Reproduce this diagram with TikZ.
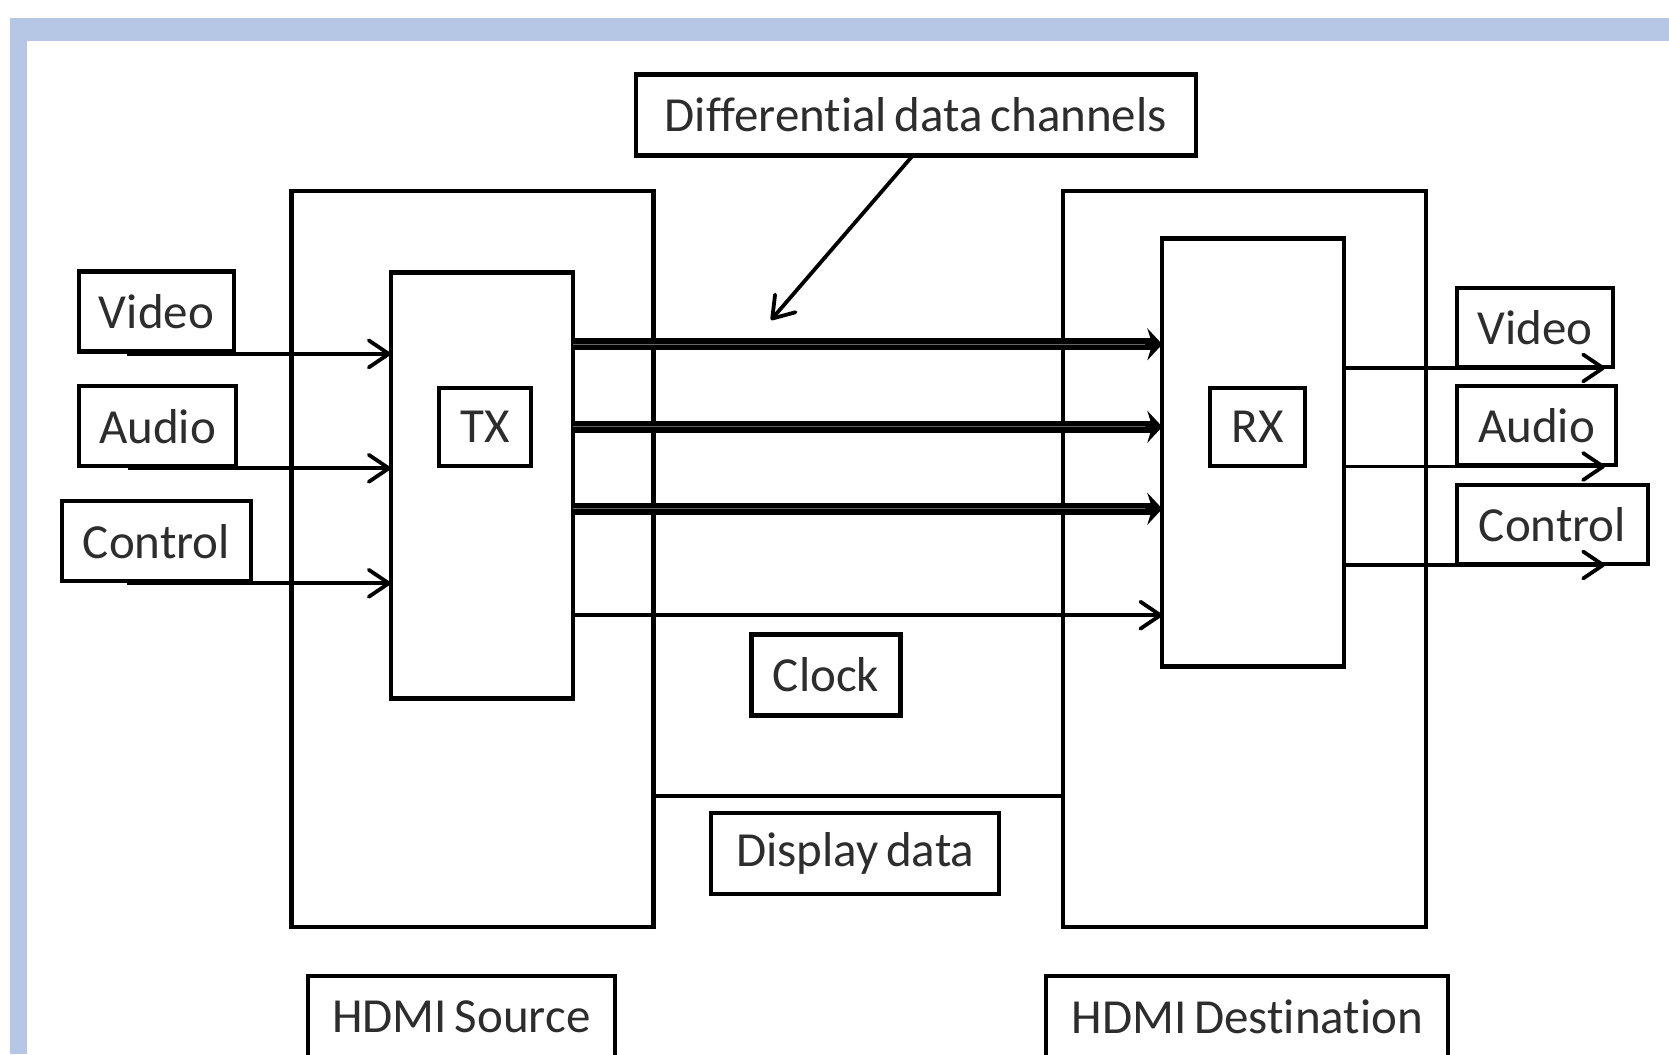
\documentclass[tikz,border=0pt]{standalone}
\usepackage{fontspec}
\setmainfont[Ligatures=NoCommon,WordSpace=0.7]{Carlito}
\usetikzlibrary{arrows.meta,calc}
\definecolor{frameblue}{RGB}{182,199,230}
\definecolor{txtgray}{RGB}{45,45,45}
\tikzset{
  box/.style={draw=black, line width=4.2pt, inner sep=0pt, outer sep=0pt, text=txtgray,
    font=\fontsize{49}{55}\selectfont},
  arr/.style={line width=3.8pt, -{Straight Barb[length=20pt,width=27pt,round]}},
  chan/.style={line width=12pt, -{Stealth[length=15pt,width=32pt,inset=5pt]}},
  chanmid/.style={line width=1.2pt, draw=black!60},
  plain/.style={line width=3.8pt},
}
\begin{document}
\begin{tikzpicture}[x=1pt,y=-1pt]
\useasboundingbox (0,0) rectangle (1669,1054);
\fill[white] (0,0) rectangle (1669,1054);
% slide frame
\fill[frameblue] (10,18) rectangle (1669,41);
\fill[frameblue] (10,18) rectangle (27,1054);

% big boxes
\node[box, minimum width=362pt, minimum height=736pt] (src) at (472.5,558.8) {};
\node[box, minimum width=363pt, minimum height=736pt] (dst) at (1244.8,558.8) {};
\node[box, minimum width=182pt, minimum height=426pt] (txo) at (481.7,485.4) {};
\node[box, minimum width=182pt, minimum height=428pt] (rxo) at (1253.3,452.4) {};
\node[box, minimum width=92pt, minimum height=78pt] (tx) at (484.8,426.8) {TX};
\node[box, minimum width=95pt, minimum height=78pt] (rx) at (1257.6,426.9) {RX};

% label boxes
\node[box, minimum width=560pt, minimum height=81pt] (diff) at (915.8,115) {Differential data channels};
\node[box, minimum width=155pt, minimum height=80pt] (vin) at (156.5,311.4) {Video};
\node[box, minimum width=157pt, minimum height=80pt] (ain) at (157.5,426.3) {Audio};
\node[box, minimum width=189pt, minimum height=80pt] (cin) at (156.5,541.3) {Control};
\node[box, minimum width=156pt, minimum height=79pt] (vout) at (1535,327.5) {Video};
\node[box, minimum width=159pt, minimum height=79pt] (aout) at (1536.5,425.5) {Audio};
\node[box, minimum width=191pt, minimum height=79pt] (cout) at (1552.5,524.5) {Control};
\node[box, minimum width=149pt, minimum height=81pt] (clock) at (826,675) {Clock};
\node[box, minimum width=288pt, minimum height=81pt] (disp) at (855.3,853.7) {Display data};
\node[box, minimum width=307pt, minimum height=81pt] (hsrc) at (461.4,1016.5) {HDMI Source};
\node[box, minimum width=402pt, minimum height=81pt] (hdst) at (1247.3,1016.5) {HDMI Destination};

% input arrows
\draw[arr] ([xshift=-30pt,yshift=-2.5pt]vin.south) -- ([yshift=-2.5pt]vin.south -| txo.west);
\draw[arr] ([xshift=-30pt,yshift=-2pt]ain.south) -- ([yshift=-2pt]ain.south -| txo.west);
\draw[arr] ([xshift=-30pt,yshift=-2pt]cin.south) -- ([yshift=-2pt]cin.south -| txo.west);

% output arrows
\draw[arr] ([yshift=-1pt]vout.south -| rxo.east) -- ([xshift=-8pt,yshift=-1pt]vout.south east);
\draw[arr] ([yshift=-1.5pt]aout.south -| rxo.east) -- ([xshift=-11pt,yshift=-1.5pt]aout.south east);
\draw[arr] ([yshift=-1pt]cout.south -| rxo.east) -- ([xshift=-43pt,yshift=-1pt]cout.south east);

% data channels
\coordinate (ch1) at (0,344.3);
\coordinate (ch2) at (0,426.8);
\coordinate (ch3) at (0,508.8);
\coordinate (clk) at (0,615.2);
\foreach \c in {ch1,ch2,ch3}{
  \draw[chan] (txo.east |- \c) -- (rxo.west |- \c);
  \draw[chanmid] (txo.east |- \c) -- ([xshift=-17pt]rxo.west |- \c);
}
\draw[arr] (txo.east |- clk) -- (rxo.west |- clk);

% display data line
\coordinate (dd) at (0,796);
\draw[plain] (src.east |- dd) -- (dst.west |- dd);

% pointer from label
\coordinate (dtip) at (771,320);
\draw[arr] ([xshift=-3pt]diff.south) -- (dtip);
\end{tikzpicture}
\end{document}
